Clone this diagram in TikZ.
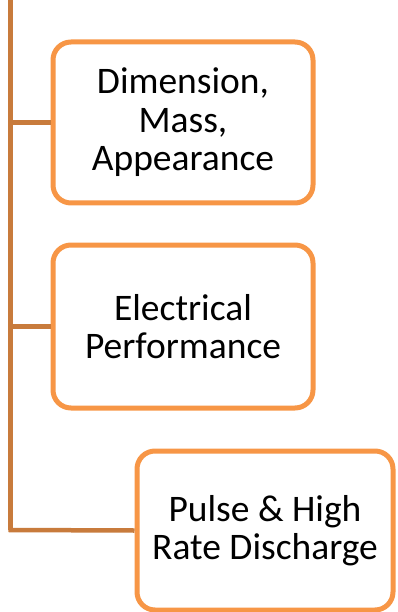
\documentclass[tikz,border=0pt]{standalone}
\usepackage{fontspec}
\setmainfont{Carlito}
\definecolor{boxorange}{HTML}{F79646}
\definecolor{lineorange}{HTML}{C87B3C}
\begin{document}
\begin{tikzpicture}[x=1pt,y=-1pt,
  item/.style={draw=boxorange, line width=5pt, rounded corners=18pt, fill=white,
    align=center, font=\fontsize{37.5}{38.5}\selectfont, inner sep=0pt},
  conn/.style={draw=lineorange, line width=4.5pt}]
\useasboundingbox (0,0) rectangle (398,612);
\node[item, minimum width=260pt, minimum height=161pt] (b1) at (183,122.5) {Dimension,\\Mass,\\Appearance};
\node[item, minimum width=260pt, minimum height=163pt] (b2) at (183,326.5) {Electrical\\Performance};
\node[item, minimum width=256pt, minimum height=159pt] (b3) at (265,530.5) {Pulse \& High\\Rate Discharge};
\coordinate (top) at (10.5,-5);
\coordinate (c1) at (10.5,122.5);
\coordinate (c2) at (10.5,326.5);
\coordinate (c3) at (10.5,530);
\draw[conn] (top) -- (c1) -- (c2) -- (c3);
\draw[conn, line join=miter] (c2) -- (c3) -- (b3.west);
\draw[conn] (c1) -- (b1.west);
\draw[conn] (c2) -- (b2.west);
\end{tikzpicture}
\end{document}
